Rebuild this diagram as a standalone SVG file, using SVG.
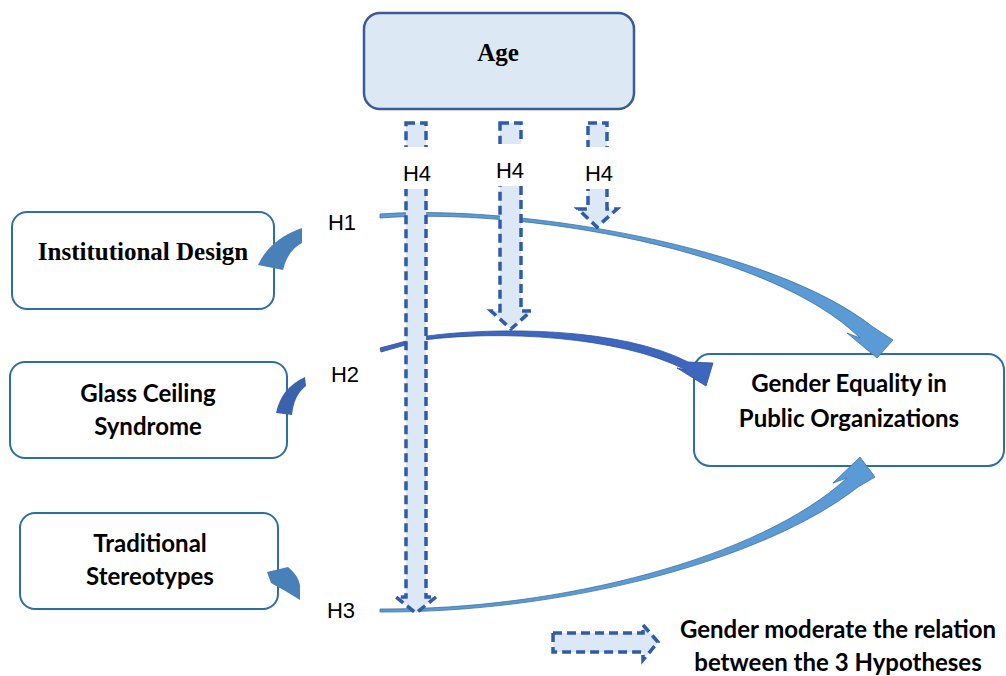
<svg xmlns="http://www.w3.org/2000/svg" width="1006" height="676" viewBox="0 0 1006 676">
<style>
.box{fill:#ffffff;stroke:#2e6ea6;stroke-width:2}
.age{fill:#dde8f5;stroke:#3b5b97;stroke-width:2.5}
.serif{font-family:"Liberation Serif","Times New Roman",serif;font-weight:bold;fill:#000}
.sans{font-family:Lato,"Liberation Sans",sans-serif;font-weight:bold;font-size:24px;fill:#000;text-anchor:middle}
.lbl{font-family:"Liberation Sans",Arial,sans-serif;font-size:22px;fill:#000;text-anchor:middle}
.dash{fill:#dce8f5;stroke:#2f5ba8;stroke-width:3.5;stroke-dasharray:9 5}
.light{fill:#5b9bd5;stroke:#41719c;stroke-width:0.8}
.dark{fill:#3d66bf;stroke:#2f4f9a;stroke-width:0.8}
.stub{fill:#4a80b8}
</style>

<g id="age">
  <rect class="age" x="364" y="13" width="270" height="96" rx="16"/>
  <text class="serif" x="498" y="61" font-size="25" text-anchor="middle">Age</text>
</g>

<g id="institutional-design">
  <rect class="box" x="12" y="212" width="262" height="97" rx="15"/>
  <text class="serif" x="143" y="260" font-size="25" text-anchor="middle">Institutional Design</text>
</g>

<g id="glass-ceiling">
  <rect class="box" x="10" y="362" width="277" height="96" rx="15"/>
  <text class="sans" x="148" y="402">Glass Ceiling</text>
  <text class="sans" x="148" y="435">Syndrome</text>
</g>

<g id="traditional-stereotypes">
  <rect class="box" x="20" y="513" width="258" height="96" rx="15"/>
  <text class="sans" x="150" y="552">Traditional</text>
  <text class="sans" x="150" y="585">Stereotypes</text>
</g>

<g id="gender-equality">
  <rect class="box" x="694" y="354" width="310" height="112" rx="16"/>
  <text class="sans" x="849" y="392">Gender Equality in</text>
  <text class="sans" x="849" y="427">Public Organizations</text>
</g>

<g id="connectors">
  <!-- H1 -->
  <path class="light" d="M380,214 C520,204 772,247 873,327 L893,340 L877,358 L847,333 L860,338 C770,249 520,207 380,218 Z"/>
  <!-- H2 -->
  <path class="dark" d="M380,348 L423,336.5 C500,326 622,328 688,362 L713,363 L706,386 L677,368 L686,370 C620,336 500,330 423,340 L381,352 Z"/>
  <!-- H3 -->
  <path class="light" d="M380,609 C560,610 760,558 847,478 L833,483 L860,457 L875,477 L858,487 C762,562 560,613 380,612 Z"/>
  <!-- tail stubs -->
  <path class="stub" d="M258,265 Q270,239 302,228 L302,243 Q288,250 283,270 Z"/>
  <path style="fill:#3a62ad" d="M276,413 Q281,388 305,377 L306,386 Q294,395 292,415 Z"/>
  <path class="stub" d="M267,572 L288,567 Q298,575 300,585 L300,600 Q286,591 271,583 Z"/>

  <!-- H4 moderating dashed arrows -->
  <path class="dash" d="M406,123 H426 V597 H436 L416,613 L396,597 H406 Z"/>
  <path class="dash" d="M500,123 H521 V311 H531 L511,329 L491,311 H500 Z"/>
  <path class="dash" d="M588,123 H607 V209 H617 L597,227 L578,209 H588 Z"/>
  <rect x="392" y="147" width="48" height="42" fill="#fff"/>
  <rect x="487" y="144" width="48" height="42" fill="#fff"/>
  <rect x="574" y="147" width="48" height="42" fill="#fff"/>
</g>

<g id="labels">
  <text class="lbl" x="342" y="230">H1</text>
  <text class="lbl" x="345" y="382">H2</text>
  <text class="lbl" x="341" y="618">H3</text>
  <text class="lbl" x="417" y="181">H4</text>
  <text class="lbl" x="510" y="178">H4</text>
  <text class="lbl" x="599" y="181">H4</text>
</g>

<g id="legend">
  <path class="dash" d="M553,633 H643 V625 L658,642 L643,660 V652 H553 Z"/>
  <text class="sans" x="838" y="638">Gender moderate the relation</text>
  <text class="sans" x="838" y="671">between the 3 Hypotheses</text>
</g>
</svg>
